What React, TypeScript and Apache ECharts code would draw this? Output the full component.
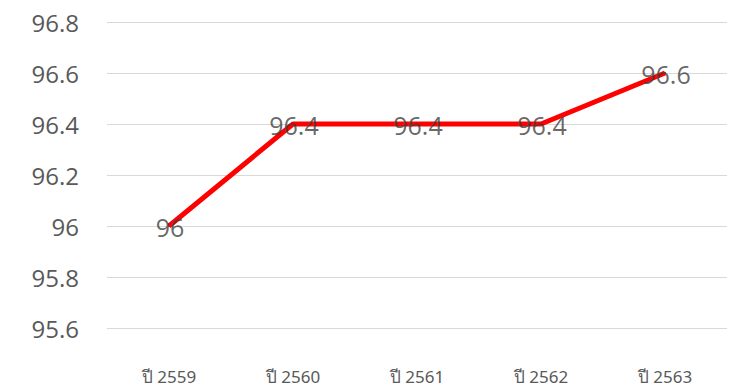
import React, { useEffect, useRef } from "react";
import * as echarts from "echarts";

const categories = ["ปี 2559", "ปี 2560", "ปี 2561", "ปี 2562", "ปี 2563"];
const values = [96, 96.4, 96.4, 96.4, 96.6];
const yMin = 95.6;
const yMax = 96.8;
const yInterval = 0.2;

export default function App() {
  const ref = useRef<HTMLDivElement>(null);
  useEffect(() => {
    if (!ref.current) return;
    const chart = echarts.init(ref.current, undefined, { renderer: "svg" });
    chart.setOption({
      animation: false,
      grid: { left: 107, right: 9, top: 22, bottom: 61 },
      xAxis: {
        type: "category",
        data: categories,
        boundaryGap: true,
        axisLine: { show: false },
        axisTick: { show: false },
        axisLabel: {
          color: "#595959",
          fontSize: 17,
          fontFamily: "Noto Sans, sans-serif",
          margin: 40,
        },
      },
      yAxis: {
        type: "value",
        min: yMin,
        max: yMax,
        interval: yInterval,
        axisLine: { show: false },
        axisTick: { show: false },
        splitLine: { lineStyle: { color: "#d9d9d9", width: 1 } },
        axisLabel: {
          color: "#595959",
          fontSize: 24,
          fontFamily: "Open Sans, Noto Sans, sans-serif",
          margin: 28,
          formatter: (v: number) => String(Math.round(v * 10) / 10),
        },
      },
      series: [
        {
          type: "line",
          data: values,
          symbol: "circle",
          symbolSize: 2,
          showSymbol: true,
          lineStyle: { color: "#ff0000", width: 5 },
          itemStyle: { color: "#ff0000" },
          z: 2,
        },
        {
          type: "scatter",
          data: values,
          symbolSize: 1,
          itemStyle: { color: "rgba(0,0,0,0)" },
          z: 5,
          label: {
            show: true,
            position: "inside",
            color: "#404040",
            fontSize: 25,
            fontFamily: "Open Sans, Noto Sans, sans-serif",
            offset: [1, 1],
          },
        },
      ],
    });
    return () => chart.dispose();
  }, []);
  return <div ref={ref} style={{ width: 736, height: 389, position: "absolute", left: 0, top: 0 }} />;
}
